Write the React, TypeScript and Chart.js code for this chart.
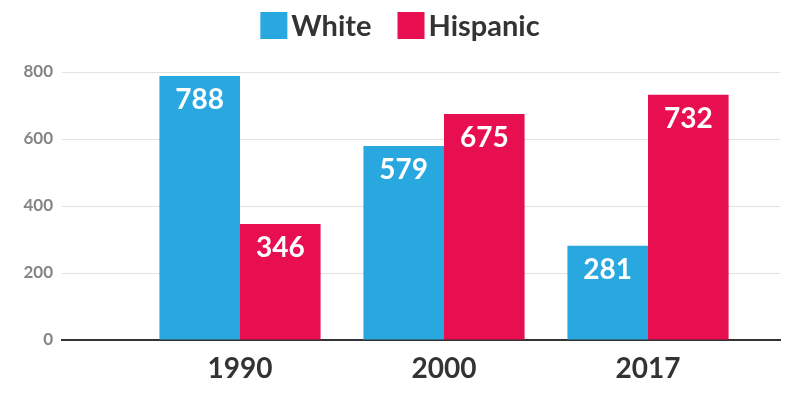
import React, { useEffect, useRef } from "react";
import { Chart, registerables } from "chart.js";

Chart.register(...registerables);

const years = ["1990", "2000", "2017"];
const whiteValues = [788, 579, 281];
const hispanicValues = [346, 675, 732];
const seriesNames = ["White", "Hispanic"];
const seriesColors = ["#29A8E0", "#E80F50"];
const yTicks = [0, 200, 400, 600, 800];

const FONT = "Lato, 'Noto Sans', sans-serif";

const valueLabels = {
  id: "valueLabels",
  afterDatasetsDraw(chart: any) {
    const ctx = chart.ctx;
    ctx.save();
    ctx.fillStyle = "#ffffff";
    ctx.font = `bold 28px ${FONT}`;
    ctx.textAlign = "center";
    ctx.textBaseline = "middle";
    chart.data.datasets.forEach((ds: any, di: number) => {
      const meta = chart.getDatasetMeta(di);
      meta.data.forEach((el: any, i: number) => {
        const v = ds.data[i].y;
        ctx.fillText(String(v), el.x, el.y + 24);
      });
    });
    ctx.restore();
  },
};

const topLegend = {
  id: "topLegend",
  afterDraw(chart: any) {
    const ctx = chart.ctx;
    ctx.save();
    ctx.font = `bold 29px ${FONT}`;
    ctx.textBaseline = "middle";
    ctx.textAlign = "left";
    const box = 27;
    const gap = 4;
    const itemGap = 26;
    const items = chart.data.datasets.map((ds: any) => ({
      label: ds.label,
      color: ds.backgroundColor,
      w: ctx.measureText(ds.label).width,
    }));
    let total = 0;
    items.forEach((it: any, i: number) => {
      total += box + gap + it.w + (i < items.length - 1 ? itemGap : 0);
    });
    let x = chart.width / 2 - total / 2;
    const y = 12;
    items.forEach((it: any) => {
      ctx.fillStyle = it.color;
      ctx.fillRect(x, y, box, box);
      x += box + gap;
      ctx.fillStyle = "#333333";
      ctx.fillText(it.label, x, y + box / 2 + 1);
      x += it.w + itemGap;
    });
    ctx.restore();
  },
};

export default function App() {
  const canvasRef = useRef<HTMLCanvasElement | null>(null);

  useEffect(() => {
    document.body.style.margin = "0";
    const canvas = canvasRef.current;
    if (!canvas) return;
    const toPoints = (vals: number[]) => vals.map((v, i) => ({ x: i + 1, y: v }));
    const chart = new Chart(canvas, {
      type: "bar",
      data: {
        datasets: [
          {
            label: seriesNames[0],
            data: toPoints(whiteValues),
            backgroundColor: seriesColors[0],
            borderWidth: 0,
            categoryPercentage: 0.79,
            barPercentage: 1,
          },
          {
            label: seriesNames[1],
            data: toPoints(hispanicValues),
            backgroundColor: seriesColors[1],
            borderWidth: 0,
            categoryPercentage: 0.79,
            barPercentage: 1,
          },
        ] as any,
      },
      options: {
        animation: false,
        responsive: true,
        maintainAspectRatio: false,
        layout: { padding: { top: 72, right: 20, left: 0, bottom: 0 } },
        plugins: {
          legend: { display: false },
          tooltip: { enabled: false },
        },
        scales: {
          x: {
            type: "linear",
            offset: false,
            bounds: "data",
            min: 0.1275,
            max: 3.647,
            grid: { display: false, drawTicks: false, offset: false },
            border: { display: true, color: "#333333", width: 2 },
            afterBuildTicks: (scale: any) => {
              scale.ticks = years.map((_, i) => ({ value: i + 1 }));
            },
            afterFit: (scale: any) => {
              scale.height = 60;
            },
            ticks: {
              autoSkip: false,
              maxRotation: 0,
              padding: 12,
              color: "#333333",
              font: { family: FONT, size: 28, weight: "bold" },
              callback: (v: any) => years[Number(v) - 1] ?? "",
            },
          },
          y: {
            min: 0,
            max: 800,
            afterBuildTicks: (scale: any) => {
              scale.ticks = yTicks.map((v) => ({ value: v }));
            },
            afterFit: (scale: any) => {
              scale.width = 62;
            },
            grid: { color: "#e2e2e2", lineWidth: 1, drawTicks: false },
            border: { display: false },
            ticks: {
              padding: 9,
              color: "#858585",
              font: { family: FONT, size: 17, weight: "bold" },
            },
          },
        },
      } as any,
      plugins: [valueLabels, topLegend],
    });
    return () => chart.destroy();
  }, []);

  return (
    <div style={{ width: 800, height: 400, position: "relative" }}>
      <canvas ref={canvasRef} />
    </div>
  );
}
